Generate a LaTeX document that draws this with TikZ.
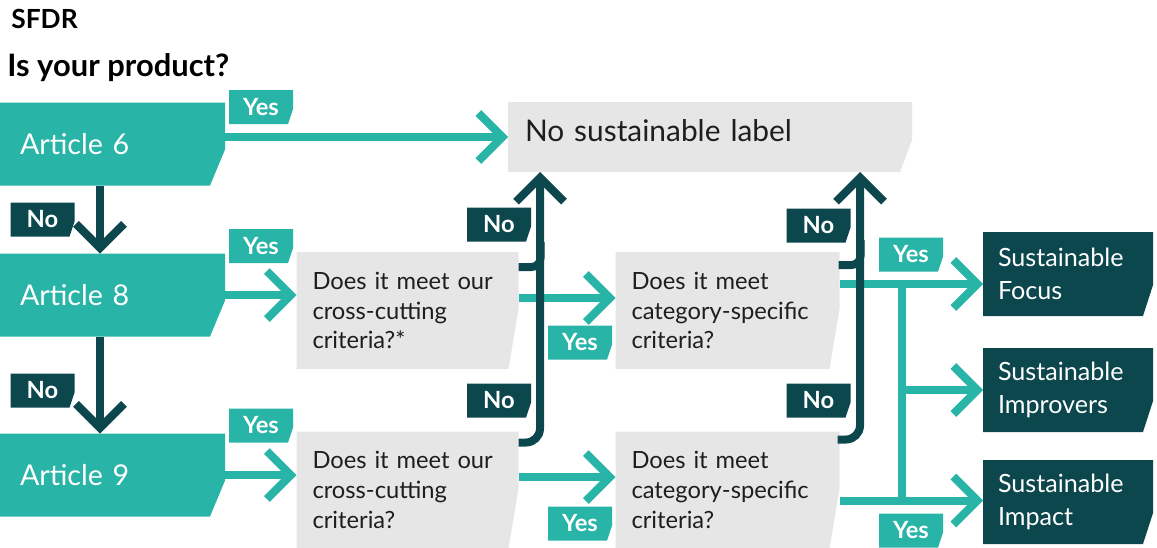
\documentclass[tikz,border=0pt]{standalone}
\usepackage{fontspec}
\setmainfont{Lato}
\usetikzlibrary{arrows.meta}
\newlength\px
\setlength\px{0.02cm}
\definecolor{teal1}{HTML}{28B4A7}
\definecolor{deep}{HTML}{0B474D}
\definecolor{panel}{HTML}{E6E6E6}
\definecolor{ink}{HTML}{1E1E1E}
\tikzset{
  % rectangle whose lower right corner is cut off at a slant
  cutbox/.style n args={3}{rectangle, outer sep=0pt,
    path picture={\fill[#1] (path picture bounding box.north west)
      -- (path picture bounding box.north east)
      -- ([yshift=#3]path picture bounding box.south east)
      -- ([xshift=-#2]path picture bounding box.south east)
      -- (path picture bounding box.south west) -- cycle;}},
  article/.style={cutbox={teal1}{15\px}{36\px}, minimum width=225\px,
    minimum height=83\px, inner ysep=0pt, inner xsep=20\px, text width=185\px,
    align=left, text=white, font=\fontsize{16.3}{19}\selectfont},
  question/.style={cutbox={panel}{10\px}{60\px}, minimum height=117\px,
    inner ysep=0pt, inner xsep=16\px, text width=190\px, align=left,
    text=ink, font=\fontsize{13.5}{17}\selectfont},
  result/.style={cutbox={deep}{10\px}{31\px}, minimum height=84\px,
    inner ysep=0pt, inner xsep=15\px, text width=140\px, align=left,
    text=white, font=\fontsize{14.3}{19}\selectfont},
  yestag/.style={cutbox={teal1}{5\px}{15\px}, minimum width=64\px,
    minimum height=34\px, inner sep=0pt, text=white,
    font=\bfseries\fontsize{13.5}{15}\selectfont},
  notag/.style={yestag, cutbox={deep}{5\px}{15\px}},
  flow/.style={teal1, line width=0.16cm, -{Straight Barb[length=0.48cm, width=0.96cm]}},
  bus/.style={teal1, line width=0.16cm},
  back/.style={deep, line width=0.16cm, rounded corners=0.28cm,
    -{Straight Barb[length=0.48cm, width=0.96cm]}},
  hook/.style={deep, line width=0.16cm, rounded corners=0.18cm},
}
\begin{document}
\begin{tikzpicture}[x=0.02cm, y=-0.02cm]
\useasboundingbox (0,0) rectangle (1157,548);

% headings
\node[anchor=west, inner sep=0pt, font=\bfseries\fontsize{15}{17}\selectfont] (ttl) at (11,19) {SFDR};
\node[anchor=west, inner sep=0pt, font=\bfseries\fontsize{17.6}{20}\selectfont] (ask) at (7,68) {Is your product?};

% SFDR categories
\node[article] (a6) at (112.5,144) {Article 6};
\node[article] (a8) at (112.5,295) {Article 8};
\node[article] (a9) at (112.5,475) {Article 9};

% outcome without label
\node[cutbox={panel}{12\px}{32\px}, minimum height=70\px, inner ysep=0pt,
  inner xsep=17\px, text width=370\px, text depth=14\px, align=left, text=ink,
  font=\fontsize{17}{20}\selectfont] (nolabel) at (710,137) {No sustainable label};

% criteria checks
\node[question] (q1) at (407.5,310.5) {Does it meet our\\cross-cutting\\criteria?*};
\node[question, text width=192\px] (q2) at (727.5,310.5) {Does it meet\\category-specific\\criteria?};
\node[question] (q3) at (407.5,490) {Does it meet our\\cross-cutting\\criteria?};
\node[question, text width=192\px] (q4) at (727.5,490) {Does it meet\\category-specific\\criteria?};

% sustainable labels
\node[result] (focus) at (1068,274) {Sustainable\\Focus};
\node[result] (improvers) at (1068,390) {Sustainable\\Improvers};
\node[result] (impact) at (1068,502) {Sustainable\\Impact};

% answer tags
\node[yestag] (y6) at (261,107) {Yes};
\node[yestag] (y8) at (261,246) {Yes};
\node[yestag] (y9) at (261,425.5) {Yes};
\node[notag] (n8) at (42.5,219.5) {No};
\node[notag] (n9) at (42.5,390.5) {No};
\node[yestag] (yq1) at (580,342.5) {Yes};
\node[yestag] (yq3) at (580,523.5) {Yes};
\node[notag] (nq1) at (499,224.5) {No};
\node[notag] (nq3) at (499,400.5) {No};
\node[notag] (nq2) at (818.5,225.5) {No};
\node[notag] (nq4) at (818.5,400.5) {No};
\node[yestag] (yr1) at (911,254.5) {Yes};
\node[yestag] (yr2) at (911,530.5) {Yes};

% "yes" paths
\draw[flow] (nolabel.west -| a6.east) -- (nolabel.west);
\draw[flow] (a8.east) -- (a8.east -| q1.west);
\draw[flow] (a9.east) -- (a9.east -| q3.west);
\draw[flow] ([yshift=12.5\px]q1.east) coordinate (h1) -- (h1 -| q2.west);
\draw[flow] ([yshift=13\px]q3.east) coordinate (h3) -- (h3 -| q4.west);
\coordinate (split) at (902,0);
\draw[flow] ([yshift=26.5\px]q2.east) coordinate (f0) -- (f0 -| focus.west);
\draw[flow] ([yshift=-10.5\px]q4.east) coordinate (g0) -- (g0 -| impact.west);
\draw[bus] (f0 -| split) -- (g0 -| split);
\draw[flow] (improvers.west -| split) -- (improvers.west);

% "no" paths
\draw[back] ([xshift=-12.5\px]a6.south) -- ([xshift=-12.5\px]a8.north);
\draw[back] ([xshift=-12.5\px]a8.south) -- ([xshift=-12.5\px]a9.north);
\draw[back] ([yshift=-11\px]q3.north east) -| ([xshift=32\px]nolabel.south west);
\draw[hook] ([yshift=-15\px]q1.north east) -| ++(22,-25);
\draw[back] ([yshift=-8\px, xshift=-2\px]q4.north east) -| ([xshift=-52\px]nolabel.south east);
\draw[hook] ([yshift=-13\px, xshift=-1\px]q2.north east) -| ++(22,-25);
\end{tikzpicture}
\end{document}
